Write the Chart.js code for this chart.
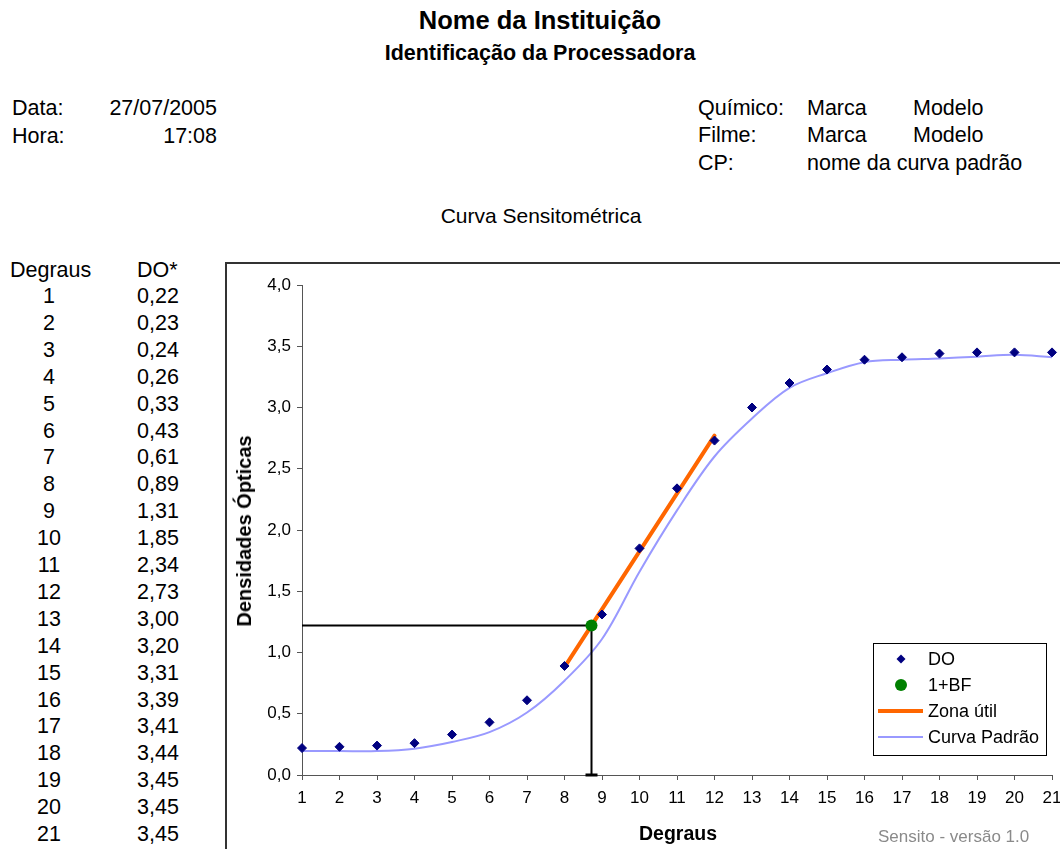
<!DOCTYPE html>
<html lang="pt-BR">
<head>
<meta charset="utf-8">
<title>Curva Sensitométrica</title>
<script src="https://cdn.jsdelivr.net/npm/chart.js@4.4.1/dist/chart.umd.min.js"></script>
<style>
  html, body { margin: 0; padding: 0; }
  body {
    width: 1060px; height: 849px; overflow: hidden; position: relative;
    background: #fff; color: #000;
    font-family: "Liberation Sans", Arial, Helvetica, sans-serif;
  }
  .t { position: absolute; white-space: nowrap; line-height: 1; }
  .b { font-weight: bold; }
  .c { transform: translateX(-50%); }
  .r { transform: translateX(-100%); }
  #moldura {
    position: absolute; left: 225px; top: 262px; width: 900px; height: 650px;
    border-left: 2px solid #333; border-top: 2px solid #333; box-sizing: border-box;
  }
  #grafico { position: absolute; left: 226px; top: 262px; }
</style>
</head>
<body>

<div class="t b c" style="left:540px; top:7.5px; font-size:25.5px;">Nome da Instituição</div>
<div class="t b c" style="left:540px; top:42.5px; font-size:21.5px;">Identificação da Processadora</div>

<div class="t" style="left:12px; top:97.8px; font-size:21.5px;">Data:</div>
<div class="t r" style="left:217px; top:97.8px; font-size:21.5px;">27/07/2005</div>
<div class="t" style="left:12px; top:125.8px; font-size:21.5px;">Hora:</div>
<div class="t r" style="left:217px; top:125.8px; font-size:21.5px;">17:08</div>

<div class="t" style="left:698px; top:97.8px; font-size:21.5px;">Químico:</div>
<div class="t" style="left:807px; top:97.8px; font-size:21.5px;">Marca</div>
<div class="t" style="left:913px; top:97.8px; font-size:21.5px;">Modelo</div>
<div class="t" style="left:698px; top:125.3px; font-size:21.5px;">Filme:</div>
<div class="t" style="left:807px; top:125.3px; font-size:21.5px;">Marca</div>
<div class="t" style="left:913px; top:125.3px; font-size:21.5px;">Modelo</div>
<div class="t" style="left:698px; top:152.8px; font-size:21.5px;">CP:</div>
<div class="t" style="left:807px; top:152.8px; font-size:21.5px;">nome da curva padrão</div>

<div class="t c" style="left:541px; top:204.7px; font-size:21px;">Curva Sensitométrica</div>

<div id="tabela"></div>

<div id="moldura"></div>
<canvas id="grafico" width="880" height="620"></canvas>

<div class="t b" style="left:244px; top:531px; font-size:20px; transform: translate(-50%,-50%) rotate(-90deg);">Densidades Ópticas</div>
<div class="t b c" style="left:678px; top:824px; font-size:19.5px;">Degraus</div>
<div class="t" style="left:878px; top:827.5px; font-size:17px; color:#8a8a8a;">Sensito - versão 1.0</div>

<script>
// Degraus da escala sensitométrica e densidades ópticas medidas
const degraus = [1, 2, 3, 4, 5, 6, 7, 8, 9, 10, 11, 12, 13, 14, 15, 16, 17, 18, 19, 20, 21];
const densidadesDO = [0.22, 0.23, 0.24, 0.26, 0.33, 0.43, 0.61, 0.89, 1.31, 1.85, 2.34,
                      2.73, 3.00, 3.20, 3.31, 3.39, 3.41, 3.44, 3.45, 3.45, 3.45];
// Curva padrão de referência
const curvaPadrao = [0.195, 0.195, 0.195, 0.215, 0.27, 0.35, 0.51, 0.77, 1.11, 1.66, 2.16,
                     2.60, 2.91, 3.16, 3.28, 3.37, 3.39, 3.40, 3.415, 3.43, 3.41];
// Reta da zona útil (degraus 8 a 12)
const zonaUtilDegraus = [8, 12];
const zonaUtilDO = [0.88, 2.77];
// Ponto 1 + base e véu
const pontoBFDegrau = [8.72];
const pontoBFDO = [1.22];

const fmt = (v, casas) => v.toFixed(casas).replace('.', ',');

// Tabela de valores à esquerda
(function montarTabela() {
  const tab = document.getElementById('tabela');
  const fs = 21.5, asc = 0.8465 * fs;
  let html = '';
  html += `<div class="t" style="left:10px; top:${277.7 - asc}px; font-size:${fs}px;">Degraus</div>`;
  html += `<div class="t" style="left:137px; top:${277.7 - asc}px; font-size:${fs}px;">DO*</div>`;
  degraus.forEach((d, i) => {
    const base = 304.2 + i * 26.9;
    html += `<div class="t c" style="left:49px; top:${base - asc}px; font-size:${fs}px;">${d}</div>`;
    html += `<div class="t" style="left:137px; top:${base - asc}px; font-size:${fs}px;">${fmt(densidadesDO[i], 2)}</div>`;
  });
  tab.innerHTML = html;
})();

const pts = (xs, ys) => xs.map((x, i) => ({ x: x, y: ys[i] }));

// Legenda desenhada dentro da área do gráfico
const legendaPlugin = {
  id: 'legendaInterna',
  afterDatasetsDraw(chart) {
    const { ctx, chartArea } = chart;
    const x0 = chartArea.left + 571, y0 = chartArea.top + 358;
    const w = 173, h = 112;
    ctx.save();
    ctx.fillStyle = '#fff';
    ctx.fillRect(x0, y0, w, h);
    ctx.strokeStyle = '#000';
    ctx.lineWidth = 1;
    ctx.strokeRect(x0 + 0.5, y0 + 0.5, w, h);
    const itens = [
      { nome: 'DO', tipo: 'diamante', cor: '#000080' },
      { nome: '1+BF', tipo: 'circulo', cor: '#008000' },
      { nome: 'Zona útil', tipo: 'linha', cor: '#FF6600', lw: 4 },
      { nome: 'Curva Padrão', tipo: 'linha', cor: '#9999FF', lw: 2 }
    ];
    const cx = x0 + 28, tx = x0 + 55;
    ctx.font = '18px "Liberation Sans", Arial, sans-serif';
    ctx.textBaseline = 'middle';
    itens.forEach((it, i) => {
      const y = y0 + 16 + i * 26;
      ctx.fillStyle = it.cor; ctx.strokeStyle = it.cor;
      if (it.tipo === 'diamante') {
        ctx.beginPath();
        ctx.moveTo(cx, y - 4.5); ctx.lineTo(cx + 4.5, y); ctx.lineTo(cx, y + 4.5); ctx.lineTo(cx - 4.5, y);
        ctx.closePath(); ctx.fill();
      } else if (it.tipo === 'circulo') {
        ctx.beginPath(); ctx.arc(cx, y, 6, 0, Math.PI * 2); ctx.fill();
      } else {
        ctx.lineWidth = it.lw; ctx.lineCap = 'butt';
        ctx.beginPath(); ctx.moveTo(x0 + 5, y); ctx.lineTo(x0 + 50, y); ctx.stroke();
      }
      ctx.fillStyle = '#000';
      ctx.fillText(it.nome, tx, y + 1);
    });
    ctx.restore();
  }
};

const corEixo = '#555';
const fonteTicks = { family: '"Liberation Sans", Arial, sans-serif', size: 17 };

new Chart(document.getElementById('grafico'), {
  type: 'scatter',
  data: {
    datasets: [
      {
        label: '1+BF',
        data: pts(pontoBFDegrau, pontoBFDO),
        pointStyle: 'circle', pointRadius: 6,
        backgroundColor: '#008000', borderColor: '#008000', borderWidth: 0,
        showLine: false, clip: false
      },
      {
        label: 'DO',
        data: pts(degraus, densidadesDO),
        pointStyle: 'rectRot', pointRadius: 4.5,
        backgroundColor: '#000080', borderColor: '#000080', borderWidth: 1,
        showLine: false, clip: false
      },
      {
        label: 'Zona útil',
        data: pts(zonaUtilDegraus, zonaUtilDO),
        showLine: true, borderColor: '#FF6600', borderWidth: 4, pointRadius: 0,
        borderCapStyle: 'round'
      },
      {
        label: 'ref-horizontal',
        data: [{ x: degraus[0], y: pontoBFDO[0] }, { x: pontoBFDegrau[0], y: pontoBFDO[0] }],
        showLine: true, borderColor: '#000', borderWidth: 2, pointRadius: 0, clip: false
      },
      {
        label: 'ref-vertical',
        data: [{ x: pontoBFDegrau[0], y: pontoBFDO[0] }, { x: pontoBFDegrau[0], y: 0 }],
        showLine: true, borderColor: '#000', borderWidth: 2,
        pointStyle: 'line', pointRadius: [0, 6], pointBorderWidth: 3,
        pointBorderColor: '#000', clip: false
      },
      {
        label: 'Curva Padrão',
        data: pts(degraus, curvaPadrao),
        showLine: true, borderColor: '#9999FF', borderWidth: 2, pointRadius: 0,
        tension: 0.35
      }
    ]
  },
  options: {
    responsive: false,
    devicePixelRatio: 1,
    animation: false,
    events: [],
    layout: { padding: { left: 0, top: 23, right: 54, bottom: 77 } },
    plugins: { legend: { display: false }, tooltip: { enabled: false }, title: { display: false } },
    scales: {
      x: {
        type: 'linear', min: 1, max: 21,
        afterFit: (s) => { s.height = 30; },
        ticks: { stepSize: 1, autoSkip: false, maxRotation: 0, padding: 8, color: '#000', font: fonteTicks },
        grid: { drawOnChartArea: false, drawTicks: true, tickLength: 5, color: corEixo },
        border: { display: true, color: corEixo, width: 1 }
      },
      y: {
        min: 0, max: 4,
        afterFit: (s) => { s.width = 76; },
        ticks: { stepSize: 0.5, padding: 6, color: '#000', font: fonteTicks,
                 callback: (v) => fmt(v, 1) },
        grid: { drawOnChartArea: false, drawTicks: true, tickLength: 5, color: corEixo },
        border: { display: true, color: corEixo, width: 1 }
      }
    }
  },
  plugins: [legendaPlugin]
});
</script>
</body>
</html>
